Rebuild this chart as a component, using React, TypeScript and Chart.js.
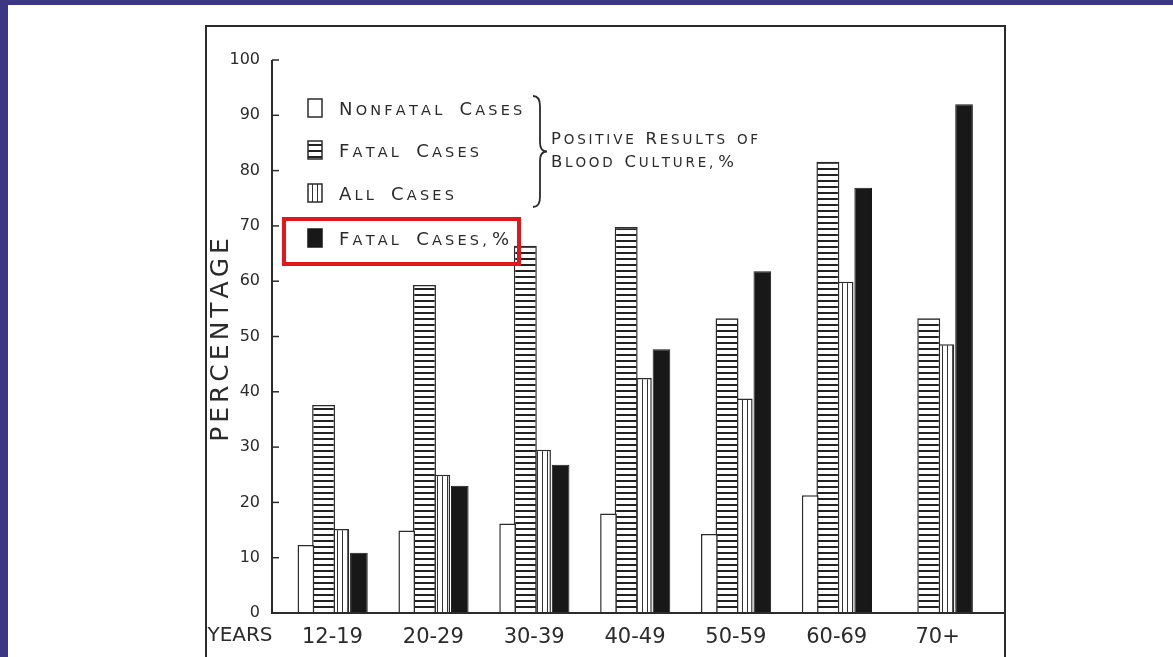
import React, { useEffect, useRef } from "react";
import { Chart, registerables } from "chart.js";

Chart.register(...registerables);

// ---- data ----
const categories = ["12-19", "20-29", "30-39", "40-49", "50-59", "60-69", "70+"];
const nonfatalCases = [12.3, 14.9, 16.2, 18, 14.3, 21.3, null];
const fatalCases = [37.6, 59.3, 66.4, 69.8, 53.3, 81.6, 53.3];
const allCases = [15.2, 25, 29.5, 42.5, 38.8, 59.9, 48.6];
const fatalCasesPct = [10.9, 23, 26.8, 47.7, 61.8, 76.9, 92];
const legendLabels = ["Nonfatal Cases", "Fatal Cases", "All Cases", "Fatal Cases, %"];
const braceLabels = ["Positive Results of", "Blood Culture, %"];
const yTitle = "PERCENTAGE";
const xTitle = "YEARS";

const INK = "#2b2b2b";
const FAMILY = "'DejaVu Sans', sans-serif";

function drawSmallCaps(
  ctx: CanvasRenderingContext2D,
  text: string,
  x: number,
  baseline: number,
  big: number,
  small: number,
  spacing: number,
  wordGap: number
) {
  let cx = x;
  let prev = "";
  ctx.textBaseline = "alphabetic";
  ctx.textAlign = "left";
  for (const ch of text) {
    if (ch === " ") {
      cx += prev === "," ? 2 : wordGap;
      prev = ch;
      continue;
    }
    const isLetter = /[a-zA-Z]/.test(ch);
    const isLower = isLetter && ch === ch.toLowerCase();
    const size = isLower || ch === "," ? small : big;
    ctx.font = `${size}px ${FAMILY}`;
    const c = isLower ? ch.toUpperCase() : ch;
    ctx.fillText(c, cx, baseline);
    cx += ctx.measureText(c).width + spacing;
    prev = ch;
  }
  return cx;
}

export default function App() {
  const ref = useRef<HTMLCanvasElement>(null);

  useEffect(() => {
    const canvas = ref.current!;
    const ctx = canvas.getContext("2d")!;

    const mk = (w: number, h: number, draw: (g: CanvasRenderingContext2D) => void) => {
      const c = document.createElement("canvas");
      c.width = w;
      c.height = h;
      const g = c.getContext("2d")!;
      draw(g);
      return ctx.createPattern(c, "repeat")!;
    };
    const hStripes = mk(6, 6, (g) => {
      g.fillStyle = "#fff";
      g.fillRect(0, 0, 6, 6);
      g.fillStyle = "#222";
      g.fillRect(0, 0, 6, 2);
    });
    const vStripes = mk(5, 5, (g) => {
      g.fillStyle = "#fff";
      g.fillRect(0, 0, 5, 5);
      g.fillStyle = "#333";
      g.fillRect(2, 0, 1, 5);
    });
    const fills = ["#ffffff", hStripes, vStripes, "#181818"];

    const decor = {
      id: "decor",
      afterDatasetsDraw(chart: any) {
        const c = chart.ctx as CanvasRenderingContext2D;
        const area = chart.chartArea;
        const ys = chart.scales.y;
        const axisX = area.left - 10;
        const base = area.bottom;
        c.save();
        c.strokeStyle = INK;
        c.fillStyle = INK;

        // frame
        c.lineWidth = 2;
        c.beginPath();
        c.moveTo(206, 660);
        c.lineTo(206, 26);
        c.lineTo(1005, 26);
        c.lineTo(1005, 660);
        c.stroke();

        // axes
        c.lineWidth = 2;
        c.beginPath();
        c.moveTo(axisX, ys.getPixelForValue(100));
        c.lineTo(axisX, base);
        c.lineTo(1005, base);
        c.stroke();
        // ticks
        c.lineWidth = 1.5;
        for (let v = 10; v <= 100; v += 10) {
          const py = ys.getPixelForValue(v);
          c.beginPath();
          c.moveTo(axisX, py);
          c.lineTo(axisX + 7, py);
          c.stroke();
        }

        // x title
        c.font = `20px ${FAMILY}`;
        c.textAlign = "center";
        c.textBaseline = "middle";
        c.fillText(xTitle, 240, 636);

        // y title (letter spaced, rotated)
        c.save();
        c.translate(221, 340);
        c.rotate(-Math.PI / 2);
        c.font = `25px ${FAMILY}`;
        c.textBaseline = "middle";
        c.textAlign = "left";
        const sp = 4;
        let total = 0;
        for (const ch of yTitle) total += c.measureText(ch).width + sp;
        total -= sp;
        let cx = -total / 2;
        for (const ch of yTitle) {
          c.fillText(ch, cx, 0);
          cx += c.measureText(ch).width + sp;
        }
        c.restore();

        // legend
        const top = area.top;
        const itemCenters = [top + 48, top + 90, top + 133, top + 178];
        itemCenters.forEach((cy, i) => {
          const bx = 308;
          const bw = 14;
          const bh = 18;
          c.fillStyle = fills[i] as any;
          c.fillRect(bx, cy - bh / 2, bw, bh);
          c.lineWidth = 1.5;
          c.strokeStyle = i === 3 ? "#181818" : INK;
          c.strokeRect(bx, cy - bh / 2, bw, bh);
          c.fillStyle = INK;
          drawSmallCaps(c, legendLabels[i], 339, cy + 6.5, 18, 14.5, 3.2, 14);
        });

        // brace
        const bx0 = 533;
        const yTop = top + 36;
        const yBot = top + 147;
        const yMid = (yTop + yBot) / 2;
        c.lineWidth = 1.8;
        c.strokeStyle = INK;
        c.beginPath();
        c.moveTo(bx0, yTop);
        c.quadraticCurveTo(bx0 + 7, yTop, bx0 + 7, yTop + 10);
        c.lineTo(bx0 + 7, yMid - 9);
        c.quadraticCurveTo(bx0 + 7, yMid, bx0 + 14, yMid);
        c.quadraticCurveTo(bx0 + 7, yMid, bx0 + 7, yMid + 9);
        c.lineTo(bx0 + 7, yBot - 10);
        c.quadraticCurveTo(bx0 + 7, yBot, bx0, yBot);
        c.stroke();

        c.fillStyle = INK;
        drawSmallCaps(c, braceLabels[0], 551, top + 84, 16.5, 13.5, 2.8, 9);
        drawSmallCaps(c, braceLabels[1], 551, top + 107, 16.5, 13.5, 2.8, 9);

        // red highlight box
        c.strokeStyle = "#e3161c";
        c.lineWidth = 4;
        c.strokeRect(284, 219, 235, 45);

        c.restore();
      },
    };

    const chart = new Chart(canvas, {
      type: "bar",
      data: {
        labels: categories,
        datasets: [
          {
            label: legendLabels[0],
            data: nonfatalCases,
            backgroundColor: fills[0],
            borderColor: INK,
            borderWidth: 1.5,
            barPercentage: 0.95,
          },
          {
            label: legendLabels[1],
            data: fatalCases,
            backgroundColor: fills[1],
            borderColor: INK,
            borderWidth: 1.5,
            barPercentage: 1.3,
          },
          {
            label: legendLabels[2],
            data: allCases,
            backgroundColor: fills[2],
            borderColor: INK,
            borderWidth: 1.5,
            barPercentage: 0.9,
          },
          {
            label: legendLabels[3],
            data: fatalCasesPct,
            backgroundColor: fills[3],
            borderColor: "#181818",
            borderWidth: 1,
            barPercentage: 1.0,
          },
        ] as any,
      },
      options: {
        animation: false,
        responsive: false,
        datasets: { bar: { categoryPercentage: 0.7 } } as any,
        layout: { padding: { left: 0, right: 185, top: 60, bottom: 0 } },
        plugins: {
          legend: { display: false },
          tooltip: { enabled: false },
          title: { display: false },
        },
        scales: {
          x: {
            grid: { display: false, drawTicks: false },
            border: { display: false },
            ticks: {
              color: INK,
              font: { family: FAMILY, size: 21 },
              padding: 12,
              maxRotation: 0,
              autoSkip: false,
            },
            afterFit: (s: any) => {
              s.height = 44;
            },
          },
          y: {
            min: 0,
            max: 100,
            grid: { display: false, drawTicks: false },
            border: { display: false },
            ticks: {
              stepSize: 10,
              color: INK,
              font: { family: FAMILY, size: 16 },
              padding: 22,
            },
            afterFit: (s: any) => {
              s.width = 282;
            },
          },
        },
      },
      plugins: [decor],
    });
    return () => chart.destroy();
  }, []);

  return (
    <div
      style={{
        position: "fixed",
        left: 0,
        top: 0,
        width: 1173,
        height: 657,
        background: "#ffffff",
        overflow: "hidden",
      }}
    >
      <div style={{ position: "absolute", left: 0, top: 0, width: 8, height: 657, background: "#3b3783" }} />
      <div style={{ position: "absolute", left: 0, top: 0, width: 1173, height: 5, background: "#3b3783" }} />
      <canvas ref={ref} width={1173} height={657} style={{ position: "absolute", left: 0, top: 0 }} />
    </div>
  );
}
